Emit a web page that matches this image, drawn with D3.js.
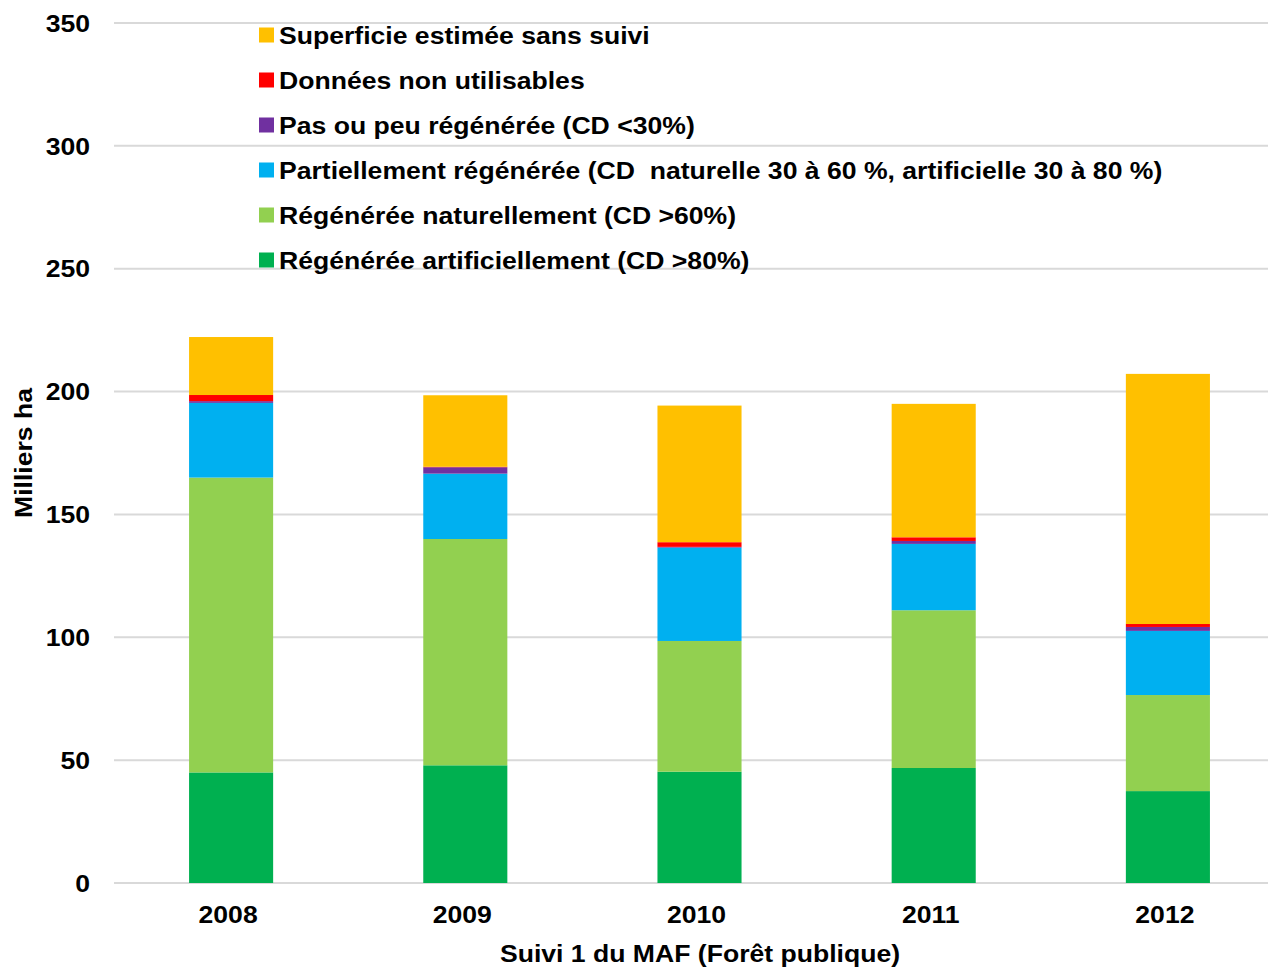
<!DOCTYPE html>
<html><head><meta charset="utf-8">
<script src="https://cdn.jsdelivr.net/npm/d3@7"></script>
<style>
body{margin:0;background:#fff;}
text{font-family:"Liberation Sans",Arial,sans-serif;font-weight:bold;fill:#000;white-space:pre;}
</style></head>
<body>
<svg id="c" width="1268" height="970"></svg>
<script>
const categories = ["2008","2009","2010","2011","2012"];
const seriesNames = [
  "Régénérée artificiellement (CD >80%)",
  "Régénérée naturellement (CD >60%)",
  "Partiellement régénérée (CD  naturelle 30 à 60 %, artificielle 30 à 80 %)",
  "Pas ou peu régénérée (CD <30%)",
  "Données non utilisables",
  "Superficie estimée sans suivi"
];
const seriesColors = ["#00B050","#92D050","#00B0F0","#7030A0","#FF0000","#FFC000"];
const artificielle = [45.0, 47.9, 45.3, 46.8, 37.4];
const naturelle    = [120.0, 92.1, 53.2, 64.2, 39.1];
const partielle    = [30.4, 26.6, 38.0, 27.0, 26.1];
const pasOuPeu     = [0.7, 2.6, 0.3, 1.2, 1.6];
const nonUtilis    = [2.5, 0.2, 1.9, 1.5, 1.2];
const sansSuivi    = [23.6, 29.1, 55.6, 54.3, 101.8];
const yTicks = [0,50,100,150,200,250,300,350];
const yTitle = "Milliers ha";
const xTitle = "Suivi 1 du MAF (Forêt publique)";

const FS = 24, SX = 1.108;

const seriesValues = [artificielle, naturelle, partielle, pasOuPeu, nonUtilis, sansSuivi];
const rows = categories.map((c,i)=>{
  const r={cat:c};
  seriesValues.forEach((s,k)=>r["s"+k]=s[i]);
  return r;
});
const keys = seriesValues.map((s,k)=>"s"+k);
const stacked = d3.stack().keys(keys)(rows);

const svg = d3.select("#c");
const x = d3.scaleBand().domain(categories).range([114,1285]).paddingInner(0.641).paddingOuter(0.3205);
const y = d3.scaleLinear().domain([0,350]).range([883,23]);

// gridlines
svg.append("g").selectAll("line").data(yTicks).join("line")
  .attr("x1",114).attr("x2",1268)
  .attr("y1",d=>y(d)).attr("y2",d=>y(d))
  .attr("stroke","#d9d9d9").attr("stroke-width",2);

// y tick labels
svg.append("g").selectAll("text").data(yTicks).join("text")
  .attr("transform",d=>`translate(90,${y(d)}) scale(${SX},1)`)
  .attr("dy","0.36em")
  .attr("text-anchor","end").attr("font-size",FS)
  .text(d=>d);

// bars
svg.append("g").selectAll("g").data(stacked).join("g")
  .attr("fill",(d,i)=>seriesColors[i])
  .selectAll("rect").data(d=>d).join("rect")
  .attr("x",d=>x(d.data.cat))
  .attr("width",x.bandwidth())
  .attr("y",d=>y(d[1]))
  .attr("height",d=>y(d[0])-y(d[1]));

// x labels
svg.append("g").selectAll("text").data(categories).join("text")
  .attr("transform",d=>`translate(${x(d)+x.bandwidth()/2-3},923) scale(${SX},1)`)
  .attr("text-anchor","middle").attr("font-size",FS)
  .text(d=>d);

svg.append("text").attr("transform",`translate(700,962) scale(${SX},1)`).attr("text-anchor","middle")
  .attr("font-size",FS).text(xTitle);

svg.append("text").attr("transform",`translate(32,453) rotate(-90) scale(${SX},1)`)
  .attr("text-anchor","middle").attr("font-size",FS).text(yTitle);

// legend (top to bottom reversed order)
const legendOrder = d3.range(seriesNames.length).reverse();
const lg = svg.append("g").selectAll("g").data(legendOrder).join("g")
  .attr("transform",(d,i)=>`translate(259,${35+i*45})`);
lg.append("rect").attr("x",0).attr("y",-7.5).attr("width",15).attr("height",15)
  .attr("fill",d=>seriesColors[d]);
lg.append("text").attr("transform",`translate(20,0) scale(${SX},1)`).attr("dy","0.36em").attr("font-size",FS)
  .text(d=>seriesNames[d]);
</script>
</body></html>
